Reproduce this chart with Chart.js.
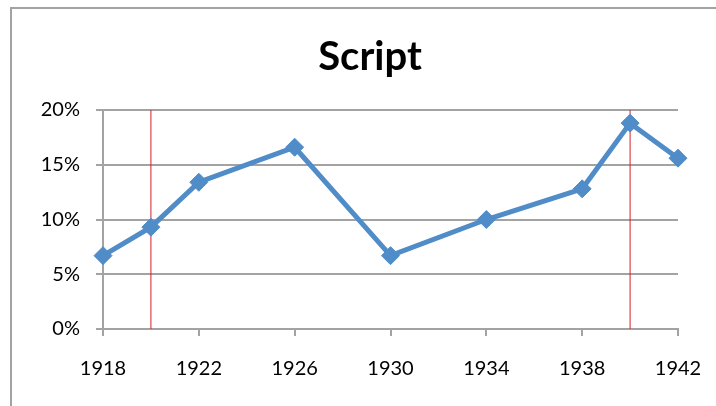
<!DOCTYPE html>
<html>
<head>
<meta charset="utf-8">
<script src="https://cdn.jsdelivr.net/npm/chart.js@4/dist/chart.umd.min.js"></script>
<style>
  html, body { margin:0; padding:0; background:#fff; }
  #wrap { position:relative; width:716px; height:406px; overflow:hidden; }
  #frame { position:absolute; left:10px; top:7px; width:760px; height:460px;
           border-left:2px solid #a3a3a3; border-top:2px solid #a3a3a3; }
  #c { position:absolute; left:0; top:0; }
</style>
</head>
<body>
<div id="wrap">
  <div id="frame"></div>
  <canvas id="c" width="716" height="406"></canvas>
</div>
<script>
// data
const years = [1918, 1920, 1922, 1926, 1930, 1934, 1938, 1940, 1942];
const shares = [0.067, 0.093, 0.134, 0.166, 0.067, 0.100, 0.128, 0.188, 0.156];
const markerYears = [1920, 1940];   // red vertical lines
const xTicks = [1918, 1922, 1926, 1930, 1934, 1938, 1942];
const yTicks = [0, 0.05, 0.10, 0.15, 0.20];
const titleText = 'Script';

const BLUE = '#508cc8';
const RED = '#d0222a';
const GRID = '#a3a3a3';
const FONT = "Lato, 'Liberation Sans', sans-serif";

const datasets = [{
  data: years.map((y, i) => ({ x: y, y: shares[i] })),
  borderColor: BLUE,
  backgroundColor: BLUE,
  borderWidth: 5,
  pointStyle: 'rectRot',
  pointRadius: 9,
  pointBorderWidth: 1,
  pointBorderColor: BLUE,
  tension: 0,
  clip: false,
  order: 1,
}];
markerYears.forEach(yr => datasets.push({
  data: [{ x: yr, y: yTicks[0] }, { x: yr, y: yTicks[yTicks.length - 1] }],
  borderColor: RED,
  borderWidth: 1,
  pointRadius: 0,
  order: 2,
}));

// title centred on the outer frame, like the spreadsheet chart
const frameTitle = {
  id: 'frameTitle',
  afterDraw(chart) {
    const ctx = chart.ctx;
    ctx.save();
    ctx.fillStyle = '#000';
    ctx.font = 'bold 40px ' + FONT;
    ctx.textAlign = 'center';
    ctx.textBaseline = 'alphabetic';
    ctx.fillText(titleText, 370, 70);
    ctx.restore();
  },
};

new Chart(document.getElementById('c'), {
  type: 'line',
  data: { datasets },
  plugins: [frameTitle],
  options: {
    responsive: false,
    animation: false,
    layout: { padding: { left: 0, right: 38, top: 110, bottom: 0 } },
    plugins: {
      legend: { display: false },
      tooltip: { enabled: false },
      title: { display: false },
    },
    scales: {
      x: {
        type: 'linear',
        min: xTicks[0],
        max: xTicks[xTicks.length - 1],
        afterBuildTicks: s => { s.ticks = xTicks.map(v => ({ value: v })); },
        afterFit: s => { s.height = 77; s.paddingLeft = 0; s.paddingRight = 0; },
        grid: { drawOnChartArea: false, drawTicks: true, tickLength: 7, color: GRID, lineWidth: 2 },
        border: { color: GRID, width: 2 },
        ticks: { color: '#000', font: { family: FONT, size: 20 }, padding: 21, maxRotation: 0, autoSkip: false,
                 callback: v => String(v) },
      },
      y: {
        min: yTicks[0],
        max: yTicks[yTicks.length - 1],
        afterBuildTicks: s => { s.ticks = yTicks.map(v => ({ value: v })); },
        afterFit: s => { s.width = 103; },
        grid: { color: GRID, lineWidth: 2, tickLength: 7 },
        border: { color: GRID, width: 2 },
        ticks: { color: '#000', font: { family: FONT, size: 20 }, padding: 16,
                 callback: v => Math.round(v * 100) + '%' },
      },
    },
  },
});
</script>
</body>
</html>
